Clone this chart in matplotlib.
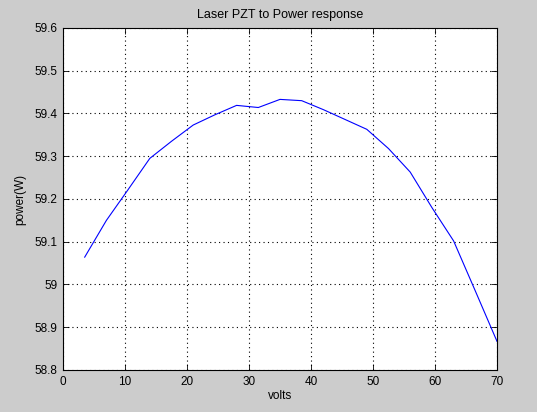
# Laser PZT to Power response (MATLAB-style figure)
import matplotlib
matplotlib.use("Agg")
import matplotlib.pyplot as plt
from matplotlib.ticker import FuncFormatter

volts = [3.5, 7, 10.5, 14, 17.5, 21, 24.5, 28, 31.5, 35,
         38.5, 42, 45.5, 49, 52.5, 56, 59.5, 63, 66.5, 70]
power = [59.064, 59.150, 59.222, 59.295, 59.335, 59.373, 59.397, 59.419, 59.414, 59.433,
         59.430, 59.409, 59.386, 59.363, 59.318, 59.263, 59.180, 59.102, 58.985, 58.867]

xticks = [0, 10, 20, 30, 40, 50, 60, 70]
yticks = [58.8, 58.9, 59.0, 59.1, 59.2, 59.3, 59.4, 59.5, 59.6]

plt.rcParams['font.family'] = ['Liberation Sans', 'DejaVu Sans']
plt.rcParams['font.size'] = 8.5

fig = plt.figure(figsize=(5.37, 4.12), dpi=100, facecolor='#cccccc')
ax = fig.add_axes([63 / 537, 42 / 412, 434 / 537, 342 / 412])
ax.set_facecolor('white')

ax.plot(volts, power, color='blue', linewidth=0.8)

ax.set_xlim(0, 70)
ax.set_ylim(58.8, 59.6)
ax.set_xticks(xticks)
ax.set_yticks(yticks)
ax.yaxis.set_major_formatter(FuncFormatter(lambda v, p: '%g' % round(v, 1)))

ax.grid(True, color='black', linestyle=(0, (1, 3)), linewidth=0.8)
ax.tick_params(direction='in', top=True, right=True, length=4, width=0.6,
               labelsize=8.5, pad=4)
for s in ax.spines.values():
    s.set_linewidth(0.8)

ax.set_title('Laser PZT to Power response', fontsize=9, pad=7)
ax.set_xlabel('volts', fontsize=8.5, labelpad=2)
ax.set_ylabel('power(W)', fontsize=8.5, labelpad=6)

fig.savefig('out.png', dpi=100, facecolor=fig.get_facecolor())
